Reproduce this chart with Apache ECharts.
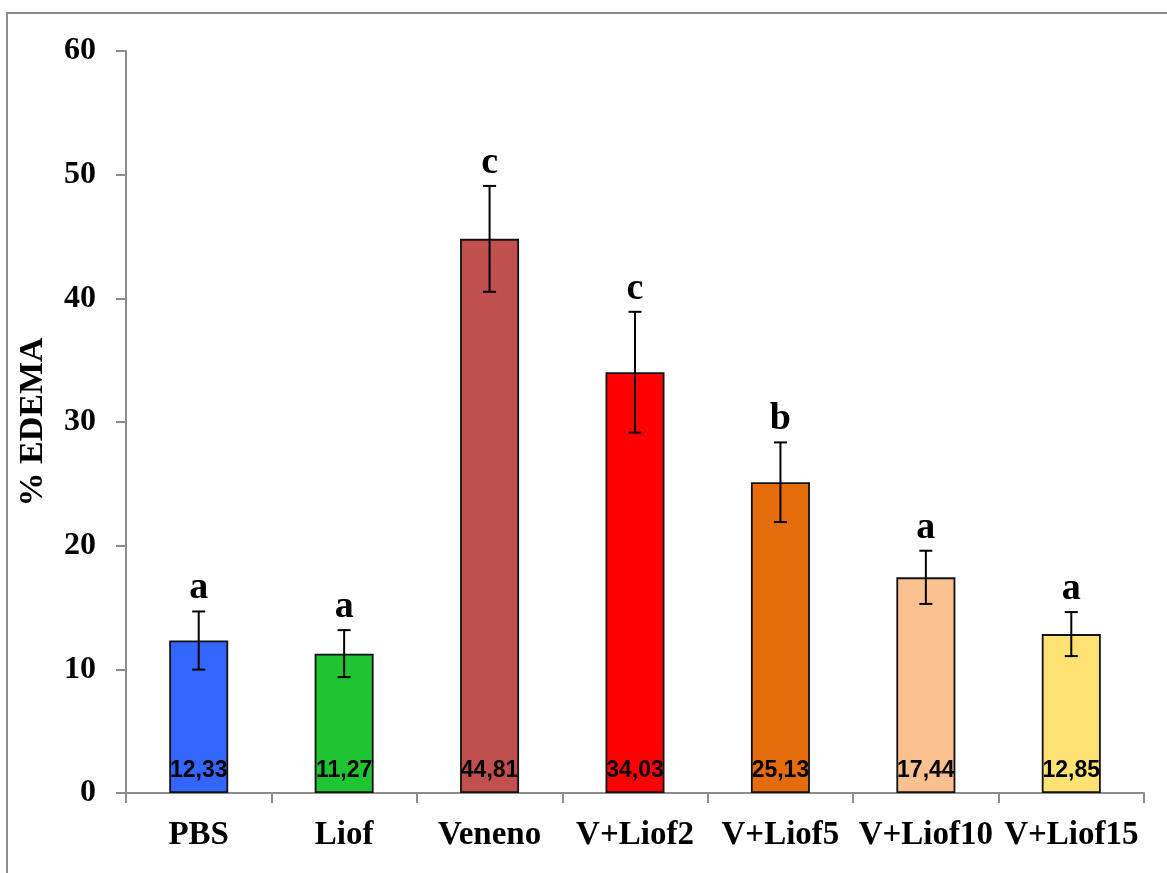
<!DOCTYPE html>
<html>
<head>
<meta charset="utf-8">
<title>% EDEMA</title>
<script src="https://cdn.jsdelivr.net/npm/echarts@6/dist/echarts.min.js"></script>
<style>
  html, body { margin: 0; padding: 0; background: #ffffff; }
  #chart { width: 1167px; height: 873px; }
</style>
</head>
<body>
<div id="chart"></div>
<script>
// Treatment groups
const categories = ['PBS', 'Liof', 'Veneno', 'V+Liof2', 'V+Liof5', 'V+Liof10', 'V+Liof15'];
// Mean % edema per group
const meanValues = [12.33, 11.27, 44.81, 34.03, 25.13, 17.44, 12.85];
// Error (± around the mean)
const errorValues = [2.35, 1.9, 4.28, 4.88, 3.22, 2.15, 1.78];
// Statistical group letters
const groupLetters = ['a', 'a', 'c', 'c', 'b', 'a', 'a'];
// Bar fill colours
const barColors = ['#3366FF', '#1FC433', '#C0504D', '#FF0000', '#E46C0A', '#FAC090', '#FFE273'];
// Y axis ticks
const yTicks = [0, 10, 20, 30, 40, 50, 60];

const serif = '"Liberation Serif", "DejaVu Serif", serif';
const sans = '"Liberation Sans", Arial, sans-serif';
const axisGray = '#8c8c8c';

const chart = echarts.init(document.getElementById('chart'), null, { renderer: 'canvas' });

const barData = meanValues.map((v, i) => ({
  value: v,
  itemStyle: { color: barColors[i] }
}));

const errData = meanValues.map((v, i) => [i, v - errorValues[i], v + errorValues[i], groupLetters[i]]);

const option = {
  animation: false,
  backgroundColor: '#ffffff',
  graphic: [{
    type: 'rect',
    shape: { x: 7, y: 13, width: 1300, height: 1000 },
    style: { fill: 'none', stroke: axisGray, lineWidth: 2 },
    silent: true,
    z: -1
  }],
  grid: { left: 126, right: 23, top: 51, bottom: 80, containLabel: false },
  xAxis: {
    type: 'category',
    data: categories,
    axisLine: { show: true, lineStyle: { color: axisGray, width: 2 } },
    axisTick: { show: true, alignWithLabel: false, length: 10, lineStyle: { color: axisGray, width: 2 } },
    axisLabel: {
      color: '#000', fontFamily: serif, fontWeight: 'bold', fontSize: 33,
      margin: 26, interval: 0
    }
  },
  yAxis: {
    type: 'value',
    min: yTicks[0],
    max: yTicks[yTicks.length - 1],
    interval: 10,
    name: '% EDEMA',
    nameLocation: 'middle',
    nameGap: 76,
    nameRotate: 90,
    nameTextStyle: { color: '#000', fontFamily: serif, fontWeight: 'bold', fontSize: 34 },
    splitLine: { show: false },
    axisLine: { show: true, lineStyle: { color: axisGray, width: 2 } },
    axisTick: { show: true, length: 10, lineStyle: { color: axisGray, width: 2 } },
    axisLabel: {
      color: '#000', fontFamily: serif, fontWeight: 'bold', fontSize: 32, margin: 30
    }
  },
  series: [
    {
      type: 'bar',
      data: barData,
      barWidth: 59,
      itemStyle: { borderColor: '#111', borderWidth: 1.8 },
      label: {
        show: true,
        position: 'insideBottom',
        distance: 11,
        color: '#000',
        fontFamily: sans,
        fontWeight: 'bold',
        fontSize: 23,
        formatter: p => p.value.toFixed(2).replace('.', ',')
      },
      z: 2
    },
    {
      type: 'custom',
      data: errData,
      z: 5,
      renderItem: function (params, api) {
        const x = api.coord([api.value(0), 0])[0];
        const yLow = api.coord([api.value(0), api.value(1)])[1];
        const yHigh = api.coord([api.value(0), api.value(2)])[1];
        const half = 6.5;
        const st = { stroke: '#000', lineWidth: 2 };
        return {
          type: 'group',
          children: [
            { type: 'line', shape: { x1: x, y1: yHigh, x2: x, y2: yLow }, style: st },
            { type: 'line', shape: { x1: x - half, y1: yHigh, x2: x + half, y2: yHigh }, style: st },
            { type: 'line', shape: { x1: x - half, y1: yLow, x2: x + half, y2: yLow }, style: st },
            {
              type: 'text',
              style: {
                text: api.value(3),
                x: x,
                y: yHigh - 4,
                align: 'center',
                verticalAlign: 'bottom',
                fill: '#000',
                font: 'bold 38px ' + serif
              }
            }
          ]
        };
      }
    }
  ]
};

chart.setOption(option);
</script>
</body>
</html>
